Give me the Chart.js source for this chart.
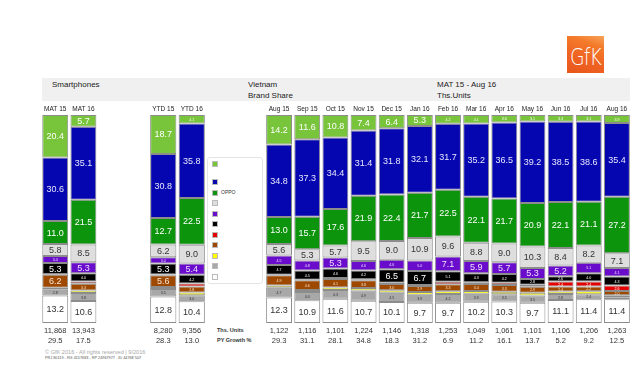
<!DOCTYPE html>
<html><head><meta charset="utf-8">
<script src="https://cdn.jsdelivr.net/npm/chart.js@4.4.1/dist/chart.umd.min.js"></script>
<style>
body{margin:0;width:640px;height:383px;background:#fff;position:relative;overflow:hidden;font-family:"Liberation Sans",Arial,sans-serif;color:#222}
.abs{position:absolute;white-space:nowrap}
#band{left:42px;top:78px;width:588px;height:23px;background:#f0f0f0}
.hd{font-size:8px;color:#222}
#logo{left:567px;top:36px;width:37px;height:37px;background:linear-gradient(200deg,#f7a35a 0%,#f47a2a 25%,#ef6322 60%,#e8561c 100%);overflow:hidden}
#logo span{position:absolute;left:3px;top:8px;font-size:23px;color:#fff;font-family:"DejaVu Sans","Liberation Sans",sans-serif;font-weight:200;letter-spacing:-1px;transform:scaleX(0.82);transform-origin:left top}
#legend{left:207px;top:157px;width:54px;height:125px;border:1px solid #e4e4e4;border-radius:3px;background:#fff}
.sw{position:absolute;width:6px;height:6px;border:1px solid #bbb;box-sizing:border-box}
.lt{position:absolute;font-size:5px;color:#333}
canvas{position:absolute}
</style></head><body>
<div id="band" class="abs"></div>
<div class="abs hd" style="left:52px;top:80px">Smartphones</div>
<div class="abs hd" style="left:248px;top:80px">Vietnam</div>
<div class="abs hd" style="left:248px;top:91px">Brand Share</div>
<div class="abs hd" style="left:437px;top:80px">MAT 15 - Aug 16</div>
<div class="abs hd" style="left:437px;top:91px">Ths.Units</div>
<div id="logo" class="abs"><span>GfK</span></div>
<div id="legend" class="abs"></div>
<div class="abs" style="left:217px;top:327px;font-size:5.5px;font-weight:bold;color:#333">Ths. Units</div>
<div class="abs" style="left:217px;top:337px;font-size:5.5px;font-weight:bold;color:#333">PY Growth %</div>
<div class="abs" style="left:45px;top:349px;font-size:5.6px;color:#aaa">© GfK 2016 - All rights reserved | 9/2016</div>
<div class="abs" style="left:45px;top:355.5px;font-size:3.8px;color:#555">PRJ 80119 - RG 4157683 - RP 24967977 - ID 44768 507</div>
<canvas id="cMat" width="57" height="247" style="left:41px;top:100px"></canvas>
<canvas id="cYtd" width="57" height="247" style="left:149px;top:100px"></canvas>
<canvas id="cMon" width="366" height="247" style="left:265px;top:100px"></canvas>
<script>
// Categories (MAT, YTD, then months)
const categories = ['MAT 15','MAT 16','YTD 15','YTD 16','Aug 15','Sep 15','Oct 15','Nov 15','Dec 15','Jan 16','Feb 16','Mar 16','Apr 16','May 16','Jun 16','Jul 16','Aug 16'];
const thsUnits = ['11,868','13,943','8,280','9,356','1,122','1,116','1,101','1,224','1,146','1,318','1,253','1,049','1,061','1,101','1,106','1,206','1,263'];
const pyGrowth = ['29.5','17.5','28.3','13.0','29.3','31.1','28.1','34.8','18.3','31.2','6.9','11.2','16.1','13.7','5.2','9.2','12.5'];

// Brand share series (%), top of stack to bottom
const sLightGreen = [20.4,5.7,18.7,4.1,14.2,11.6,10.8,7.4,6.4,5.3,4.2,4.1,3.6,3.1,3.3,3.1,3.9];
const sBlue       = [30.6,35.1,30.8,35.8,34.8,37.3,34.4,31.4,31.8,32.1,31.7,35.2,36.5,39.2,38.5,38.6,35.4];
const sOppo       = [11.0,21.5,12.7,22.5,13.0,15.7,17.6,21.9,22.4,21.7,22.5,22.1,21.7,20.9,22.1,21.1,27.2];
const sLightGray  = [5.8,8.5,6.2,9.0,5.6,5.3,5.7,9.5,9.0,10.9,9.6,8.8,9.0,10.3,8.4,8.2,7.1];
const sPurple     = [3.4,5.3,3.0,5.4,4.5,4.8,5.3,4.6,4.6,5.0,7.1,5.9,5.7,5.3,5.2,5.1,4.1];
const sBlack      = [5.3,4.0,5.3,4.2,4.7,4.5,4.6,4.2,6.5,6.7,5.1,4.3,4.2,2.8,2.6,4.0,4.3];
const sRed        = [0.3,1.0,0.4,1.5,0.3,0.3,0.4,0.4,0.5,0.5,1.2,0.8,1.0,1.0,2.4,2.4,2.6];
const sBrown      = [6.2,3.3,5.6,2.8,4.9,4.6,4.1,3.8,3.0,2.9,3.3,3.4,3.3,2.9,2.4,2.2,2.0];
const sYellow     = [1.0,1.2,1.0,1.3,1.0,1.0,1.2,1.2,1.2,1.3,1.4,1.3,1.2,1.3,1.2,1.5,1.0];
const sGray       = [2.8,3.8,3.5,3.0,4.7,4.0,4.3,4.9,4.5,3.9,4.2,3.9,3.5,3.5,2.8,2.4,1.0];
const sOthers     = [13.2,10.6,12.8,10.4,12.3,10.9,11.6,10.7,10.1,9.7,9.7,10.2,10.3,9.7,11.1,11.4,11.4];

const seriesNames = ['', '', 'OPPO', '', '', '', '', '', '', '', ''];
const seriesData = [sLightGreen,sBlue,sOppo,sLightGray,sPurple,sBlack,sRed,sBrown,sYellow,sGray,sOthers];
const seriesColors = ['#78c43a','#0606b0','#0c940c','#dedede','#6a0ccc','#000000','#e40000','#9e4800','#ffff00','#a8a8a8','#ffffff'];
const textColors = ['#ffffff','#e6e6ff','#ffffff','#333333','#ece0ff','#ffffff','#ffffff','#f6e6d6','#444444','#333333','#333333'];

// legend
const lg = document.getElementById('legend');
seriesColors.forEach((c,i)=>{
  const top = i===0 ? 3 : 21 + (i-1)*10.5;
  const sw = document.createElement('div'); sw.className='sw';
  sw.style.left='4px'; sw.style.top=top+'px'; sw.style.background=c;
  lg.appendChild(sw);
  if (seriesNames[i]) {
    const t=document.createElement('div'); t.className='lt';
    t.style.left='13px'; t.style.top=(top-0.5)+'px'; t.textContent=seriesNames[i];
    lg.appendChild(t);
  }
});

const segLabels = {
  id:'segLabels',
  afterDatasetsDraw(chart){
    const ctx = chart.ctx;
    chart.data.datasets.forEach((ds,di)=>{
      const meta = chart.getDatasetMeta(di);
      meta.data.forEach((bar,i)=>{
        const v = ds.data[i];
        if (v < 1.8) return;
        const big = v >= 5.2;
        ctx.save();
        ctx.font = big ? '9px "Liberation Sans", Arial' : '3.6px "Liberation Sans", Arial';
        ctx.fillStyle = textColors[di];
        ctx.textAlign='center'; ctx.textBaseline='middle';
        ctx.fillText(v.toFixed(1), bar.x, (bar.y+bar.base)/2 + 0.5);
        ctx.restore();
      });
    });
  }
};

function makeChart(id, a, b){
  const labels = categories.slice(a,b);
  const bottomLabels = thsUnits.slice(a,b).map((u,i)=>[u, pyGrowth[a+i]]);
  new Chart(document.getElementById(id), {
    type:'bar',
    data:{
      labels,
      datasets: seriesData.map((d,i)=>({
        label: seriesNames[i] || ('s'+i),
        data: d.slice(a,b),
        backgroundColor: seriesColors[i],
        borderColor:'#8c8c8c',
        borderWidth:1,
        borderSkipped:false,
        barPercentage:0.92,
        categoryPercentage:1.0
      })).reverse()
    },
    options:{
      responsive:false, animation:false, devicePixelRatio:1,
      layout:{padding:0},
      plugins:{legend:{display:false}, tooltip:{enabled:false}},
      scales:{
        x:{type:'category', position:'top', stacked:true, offset:true,
           grid:{display:false, drawTicks:false}, border:{display:false},
           ticks:{autoSkip:false, maxRotation:0, padding:2, color:'#222', font:{family:'"Liberation Sans", Arial', size:6.5, lineHeight:1.2}},
           afterFit(s){ s.height = 15; }},
        x2:{type:'category', position:'bottom', offset:true, labels: bottomLabels,
           grid:{display:false, drawTicks:false}, border:{display:false},
           ticks:{autoSkip:false, maxRotation:0, padding:3, color:'#333', font:{family:'"Liberation Sans", Arial', size:7.5, lineHeight:1.3}},
           afterFit(s){ s.height = 24; }},
        y:{stacked:true, min:0, max:100, display:false}
      }
    },
    plugins:[segLabels]
  });
}
// Fix text color mapping after reverse: plugin uses dataset index, so remap
const _tc = textColors.slice().reverse();
textColors.length = 0; _tc.forEach(c=>textColors.push(c));
makeChart('cMat',0,2);
makeChart('cYtd',2,4);
makeChart('cMon',4,17);
</script>
</body></html>
